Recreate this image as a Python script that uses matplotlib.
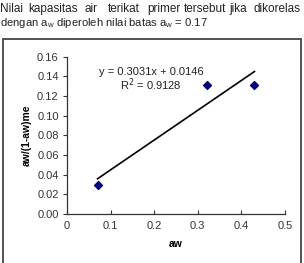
import matplotlib
matplotlib.use("Agg")
import matplotlib.pyplot as plt
from matplotlib.patches import Rectangle

# ---- data ----
aw = [0.07, 0.32, 0.43]
aw_ratio = [0.030, 0.131, 0.131]
slope = 0.3031
intercept = 0.0146
r2 = 0.9128
x_ticks = [0, 0.1, 0.2, 0.3, 0.4, 0.5]
x_tick_labels = ["0", "0.1", "0.2", "0.3", "0.4", "0.5"]
y_ticks = [0.00, 0.02, 0.04, 0.06, 0.08, 0.10, 0.12, 0.14, 0.16]
y_tick_labels = ["%.2f" % v for v in y_ticks]
line1_words = ["Nilai", "kapasitas", "air", "terikat", "primer", "tersebut", "jika", "dikorelas"]
line1_x = [0, 28, 84, 108, 147, 184, 229, 254]
line2 = r"dengan a$\mathregular{_w}$ diperoleh nilai batas a$\mathregular{_w}$ = 0.17"

plt.rcParams['font.family'] = ['Liberation Sans', 'DejaVu Sans']

W, H = 304, 263
fig = plt.figure(figsize=(W / 100, H / 100), dpi=100)
fig.patch.set_facecolor("white")

def fx(px):
    return px / W

def fy(py):
    return 1 - py / H

# caption text
for word, xp in zip(line1_words, line1_x):
    fig.text(fx(xp), fy(12), word, fontsize=8.5,
             ha="left", va="baseline", color="#222222")
fig.text(fx(0), fy(26.5), line2, fontsize=8.1,
         ha="left", va="baseline", color="#222222")

# frame box
fig.patches.append(Rectangle((fx(3), fy(275)), fx(298), (275 - 39) / H,
                             transform=fig.transFigure, fill=False,
                             edgecolor="#444444", linewidth=1.3, clip_on=False))

ax = fig.add_axes([fx(67), fy(214), fx(285 - 67), (214 - 56.7) / H])
ax.set_facecolor("white")

ax.scatter(aw, aw_ratio, marker="D", s=16, color="#000080", zorder=3)
x0, x1 = min(aw), max(aw)
ax.plot([x0, x1], [slope * x0 + intercept, slope * x1 + intercept],
        color="black", linewidth=1.2, zorder=2)

ax.set_xlim(0, 0.5)
ax.set_ylim(0, 0.16)
ax.set_xticks(x_ticks)
ax.set_xticklabels(x_tick_labels)
ax.set_yticks(y_ticks)
ax.set_yticklabels(y_tick_labels)
for s in ["top", "right"]:
    ax.spines[s].set_visible(False)
for s in ["left", "bottom"]:
    ax.spines[s].set_color("#333333")
    ax.spines[s].set_linewidth(0.9)
ax.tick_params(axis="x", direction="in", length=3, width=0.8, pad=5,
               labelsize=8, colors="#333333")
ax.tick_params(axis="y", direction="out", length=3, width=0.8, pad=3,
               labelsize=8, colors="#333333")
ax.set_xlabel("aw", fontsize=7.5, fontweight="bold", labelpad=6)
ax.set_ylabel("aw/(1-aw)me", fontsize=7.5, fontweight="bold", labelpad=4)

fig.text(fx(151), fy(72), "y = 0.3031x + 0.0146", fontsize=8, ha="center",
         va="center", color="#222222")
fig.text(fx(151), fy(85), "R$^2$ = 0.9128", fontsize=8, ha="center",
         va="center", color="#222222")

fig.savefig("out.png", dpi=100, facecolor="white")
